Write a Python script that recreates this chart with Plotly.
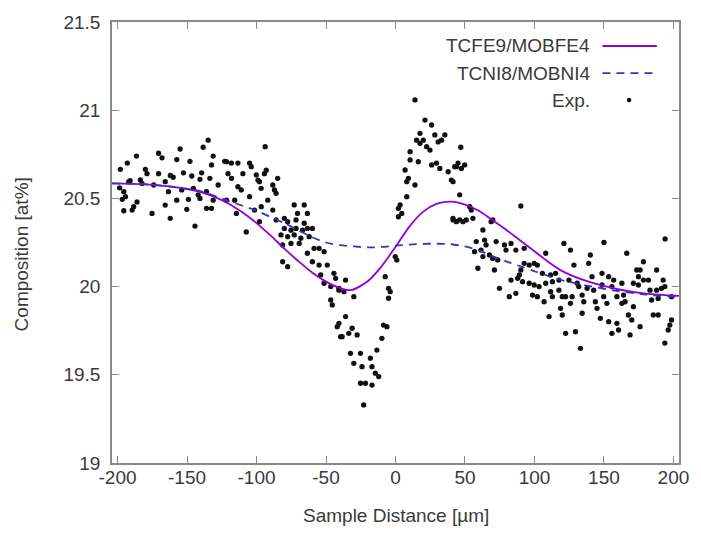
import plotly.graph_objects as go

# ---- model curves ----
fe_x = [-204, -180, -160, -140, -120, -110, -100, -90, -80, -70, -60, -50, -40, -32, -20, -10, 0, 10, 20, 30, 40, 50, 60, 70, 80, 90, 100, 110, 120, 140, 160, 180, 204]
fe_y = [20.585, 20.58, 20.565, 20.535, 20.47, 20.42, 20.36, 20.29, 20.215, 20.145, 20.08, 20.028, 19.992, 19.98, 20.03, 20.115, 20.225, 20.34, 20.425, 20.47, 20.482, 20.465, 20.43, 20.375, 20.32, 20.26, 20.2, 20.14, 20.088, 20.025, 19.985, 19.96, 19.947]

ni_x = [-204, -180, -160, -140, -120, -100, -90, -80, -70, -60, -50, -40, -30, -20, -10, 0, 10, 20, 30, 40, 50, 60, 70, 80, 90, 100, 110, 120, 140, 160, 180, 204]
ni_y = [20.585, 20.58, 20.565, 20.54, 20.485, 20.43, 20.395, 20.36, 20.32, 20.28, 20.25, 20.235, 20.228, 20.222, 20.225, 20.232, 20.238, 20.242, 20.243, 20.24, 20.228, 20.205, 20.172, 20.142, 20.115, 20.087, 20.06, 20.036, 20.002, 19.975, 19.955, 19.94]

# ---- experimental points ----
exp_x = [
    -134.8, -138.4, -186.4, -170.5, -168, -155, -157.4, -147.9, -132.4, -131.2, -193, -198, -180, -178.8, -170.5,
    -162, -160, -152.6, -146.6, -139.5, -122.9, -191.9, -183.6, -182.4, -174, -165.7, -140.7, -133.6, -127.6,
    -195.5, -194.3, -196.6, -163.4, -153.8, -145.5, -149, -157.4, -140.7, -142, -136, -131.2, -121.6, -186,
    -188.4, -189.5, -195.5, -175.2, -165.7, -150.2, -136, -132.4, -162.1, -144.3, -191, -198.5,
    -93.8, -121.6, -118.1, -113.4, -105, -103.8, -93, -94.3, -120.5, -118, -109.8, -100.2, -99, -84.8, -113.4,
    -111, -96.7, -97.9, -88.3, -87.1, -85.9, -105, -91.9, -115.7, -72.9, -65.7, -101.4, -96.6, -88.3, -70.5,
    -63.4, -114.5, -85.9, -80, -77.6, -71.6, -65.7, -97.9, -80, -75.2, -71.6, -66.9, -63.4, -59.8, -107.4,
    -82.4, -77.6, -72.9, -68.1, -62.1, -75.2, -69.3, -81.2, -58.6, -55, -51.4, -63.4, -81.2, -77.6, -59.8,
    -55, -49.1, -53.8, -44.3, -43.1, -51.4, -46.6, -40.7, -46.6, -45.5, -41.9, -39.5,
    14, 21.2, 26, 17.6, 20, 15.2, 17.6, 28.3, 30.7, 35.5, 33.1, 22.4, 24.8, 10.5, 10.5, 16.4, 26, 29.5, 31.9,
    37.9, 40.2, 42.6, 6.9, 9.3, 8.1, 14, 8.1, 3.3, 2.1, 4.5, 2.1, 41.4, 43.8, -0.2, 0.9, -7.4, -5, -3.8, -5,
    -35.9, -40.7, -37.1, -30, -35.9, -8.6, -6.2, -9.8, -40.7, -31.2, -33.6, -38.4, -27.6, -32.4, -25.2, -30,
    -24.1, -18.1, -16.9, -13.4, -14.5, -12.1, -16.9, -25.2, -21.6, -22.9,
    47, 43.8, 47.4, 45, 49.8, 41.4, 46.2, 90.2, 53.4, 54.5, 41.4, 46.2, 50.9, 55.7, 48.6, 68.8, 70, 62.9, 121.2,
    58.1, 64.1, 65.2, 72.4, 78.4, 83.1, 86.6, 92.6, 79.5, 108.1, 56.9, 61.6, 62.9, 67.6, 70, 73.6, 59.3, 71.2,
    92.6, 96.2, 99.8, 102.1, 105.7, 111.6, 115.2, 90.2, 89.1, 83.1, 87.9, 91.4, 96.2, 99.8, 103.3, 108.1, 112.9,
    117.6, 74.8, 81.9, 86.6, 98.6, 102.1, 111.6, 112.9, 117.6, 120, 106.9, 118.8, 120, 110.5, 122.4,
    125.9, 140.2, 139, 128.4, 166.4, 178.4, 187.9, 173.6, 176, 148.6, 153.4, 157, 141.4, 174.8, 178.4, 182,
    192.6, 124.8, 130.7, 131.9, 148.6, 155.7, 162.9, 171.2, 174.8, 137.9, 142.6, 183.1, 187.9, 191.4, 193.8,
    122.4, 127.1, 134.3, 149.8, 159.3, 164.1, 184.3, 189, 198.6, 135.5, 143.8, 152.1, 162.9, 165.2, 171.2,
    125.9, 134.3, 145, 167.6, 185.5, 189, 147.4, 153.4, 159.3, 170, 176, 198.6, 197.4, 196.2, 129.5, 155.7,
    160.5, 168.8, 133.1, 193.8, 194, 150,
]
exp_y = [
    20.83, 20.79, 20.74, 20.756, 20.73, 20.78, 20.72, 20.71, 20.69, 20.74, 20.70, 20.665, 20.665, 20.64, 20.64,
    20.63, 20.62, 20.645, 20.627, 20.645, 20.71, 20.595, 20.605, 20.585, 20.576, 20.595, 20.608, 20.614, 20.576,
    20.538, 20.51, 20.495, 20.538, 20.548, 20.557, 20.495, 20.49, 20.50, 20.52, 20.538, 20.49, 20.49, 20.48,
    20.453, 20.434, 20.43, 20.415, 20.462, 20.438, 20.444, 20.444, 20.387, 20.343, 20.6, 20.56,
    20.793, 20.708, 20.70, 20.70, 20.70, 20.68, 20.66, 20.64, 20.64, 20.614, 20.64, 20.633, 20.604, 20.614, 20.566,
    20.548, 20.557, 20.595, 20.576, 20.548, 20.529, 20.51, 20.49, 20.49, 20.463, 20.463, 20.434, 20.453, 20.434, 20.415,
    20.415, 20.415, 20.378, 20.387, 20.368, 20.378, 20.359, 20.368, 20.33, 20.32, 20.33, 20.32, 20.33, 20.33, 20.31,
    20.293, 20.283, 20.293, 20.274, 20.283, 20.245, 20.245, 20.236, 20.217, 20.217, 20.198, 20.189, 20.141, 20.113, 20.141,
    20.122, 20.122, 20.066, 20.075, 20.047, 20.019, 20.0, 19.98, 19.924, 19.896, 19.773, 19.716,
    21.058, 20.944, 20.916, 20.869, 20.83, 20.83, 20.812, 20.86, 20.82, 20.86, 20.83, 20.793, 20.774, 20.765, 20.718, 20.708, 20.69, 20.7, 20.67,
    20.651, 20.604, 20.68, 20.661, 20.614, 20.595, 20.576, 20.51, 20.463, 20.444, 20.415, 20.396, 20.378, 20.368, 20.17, 20.151, 20.056, 19.99, 19.971, 19.934,
    20.037, 19.99, 19.971, 19.943, 19.83, 19.782, 19.773, 19.707, 19.792, 19.764, 19.735, 19.716, 19.726, 19.622, 19.622, 19.565,
    19.546, 19.594, 19.546, 19.64, 19.509, 19.49, 19.442, 19.452, 19.452, 19.329,
    20.79, 20.68, 20.67, 20.70, 20.69, 20.595, 20.52, 20.457, 20.453, 20.434, 20.387, 20.378, 20.378, 20.387, 20.368, 20.368, 20.378, 20.321, 20.245,
    20.255, 20.264, 20.236, 20.255, 20.236, 20.245, 20.207, 20.217, 20.207, 20.189, 20.198, 20.207, 20.17, 20.179, 20.16, 20.151, 20.104, 20.094,
    20.132, 20.122, 20.132, 20.122, 20.075, 20.066, 20.075, 20.094, 20.066, 20.037, 20.047, 20.028, 20.019, 20.009, 20.0, 20.019, 20.028,
    20.037, 19.99, 19.943, 19.962, 19.952, 19.943, 19.971, 19.943, 19.98, 19.943, 19.914, 19.877, 19.839, 19.83, 19.735,
    20.207, 20.179, 20.132, 20.122, 20.189, 20.141, 20.094, 20.094, 20.094, 20.075, 20.056, 20.037, 20.056, 20.056, 20.037, 20.037,
    20.037, 20.037, 20.019, 20.0, 20.009, 20.0, 20.019, 20.019, 20.009, 19.99, 19.98, 19.98, 19.98, 19.99, 20.0,
    19.943, 19.943, 19.952, 19.943, 19.943, 19.952, 19.924, 19.933, 19.943, 19.914, 19.914, 19.905, 19.905, 19.914, 19.886,
    19.905, 19.849, 19.877, 19.839, 19.839, 19.839, 19.82, 19.801, 19.792, 19.811, 19.773, 19.811, 19.782, 19.754, 19.744, 19.735,
    19.754, 19.726, 19.65, 19.68, 20.27, 20.25,
]

x_ticks = [-200, -150, -100, -50, 0, 50, 100, 150, 200]
x_tick_text = ["-200", "-150", "-100", "-50", "0", "50", "100", "150", "200"]
y_ticks = [19, 19.5, 20, 20.5, 21, 21.5]
y_tick_text = ["19", "19.5", "20", "20.5", "21", "21.5"]

names = ["TCFE9/MOBFE4", "TCNI8/MOBNI4", "Exp."]

PURPLE = "#9400d3"
BLUE = "#3434c8"
FONT = "Liberation Sans, Arial, sans-serif"
TXT = "#3a3a3a"
FRAME = "#8a8a8a"

fig = go.Figure()
fig.add_trace(go.Scatter(x=exp_x, y=exp_y, mode="markers", name=names[2],
                         marker=dict(color="#111111", size=5.3), showlegend=False))
fig.add_trace(go.Scatter(x=fe_x, y=fe_y, mode="lines", name=names[0], line_shape="spline",
                         line=dict(color=PURPLE, width=1.8, smoothing=0.8), showlegend=False))
fig.add_trace(go.Scatter(x=ni_x, y=ni_y, mode="lines", name=names[1], line_shape="spline",
                         line=dict(color=BLUE, width=1.8, dash="8px,6px", smoothing=0.8), showlegend=False))

axis_common = dict(showline=True, linecolor=FRAME, linewidth=1.5, mirror="allticks",
                   ticks="inside", ticklen=7, tickwidth=1.2, tickcolor=FRAME,
                   showgrid=False, zeroline=False,
                   tickfont=dict(family=FONT, size=19, color=TXT))

fig.update_layout(
    width=701, height=534,
    margin=dict(l=112, r=19, t=22, b=71),
    paper_bgcolor="white", plot_bgcolor="white",
    xaxis=dict(range=[-204, 204], tickvals=x_ticks, ticktext=x_tick_text,
               ticklabelstandoff=-4, **axis_common),
    yaxis=dict(range=[19, 21.5], tickvals=y_ticks, ticktext=y_tick_text,
               ticklabelstandoff=6, **axis_common),
    showlegend=False,
)

# axis titles
fig.add_annotation(text="Sample Distance [µm]", xref="paper", yref="paper", x=0.5, y=-0.118,
                   showarrow=False, xanchor="center", yanchor="middle",
                   font=dict(family=FONT, size=19, color=TXT))
fig.add_annotation(text="Composition [at%]", xref="paper", yref="paper", x=-0.158, y=0.474,
                   showarrow=False, xanchor="center", yanchor="middle", textangle=-90,
                   font=dict(family=FONT, size=19, color=TXT))

# gnuplot-style legend (text right-aligned, sample on the right)
leg_y = [0.9456, 0.884, 0.823]
for name, yy in zip(names, leg_y):
    fig.add_annotation(text=name, xref="paper", yref="paper", x=0.847, y=yy,
                       showarrow=False, xanchor="right", yanchor="middle",
                       font=dict(family=FONT, size=19, color=TXT))
fig.add_shape(type="line", xref="paper", yref="paper", x0=0.865, x1=0.961, y0=leg_y[0], y1=leg_y[0],
              line=dict(color=PURPLE, width=1.8))
fig.add_shape(type="line", xref="paper", yref="paper", x0=0.865, x1=0.961, y0=leg_y[1], y1=leg_y[1],
              line=dict(color=BLUE, width=1.8, dash="8px,6px"))
fig.add_shape(type="circle", xref="paper", yref="paper", x0=0.908, x1=0.916,
              y0=leg_y[2] - 0.0055, y1=leg_y[2] + 0.0055,
              fillcolor="#111111", line=dict(width=0))

fig.write_html("out.html")
